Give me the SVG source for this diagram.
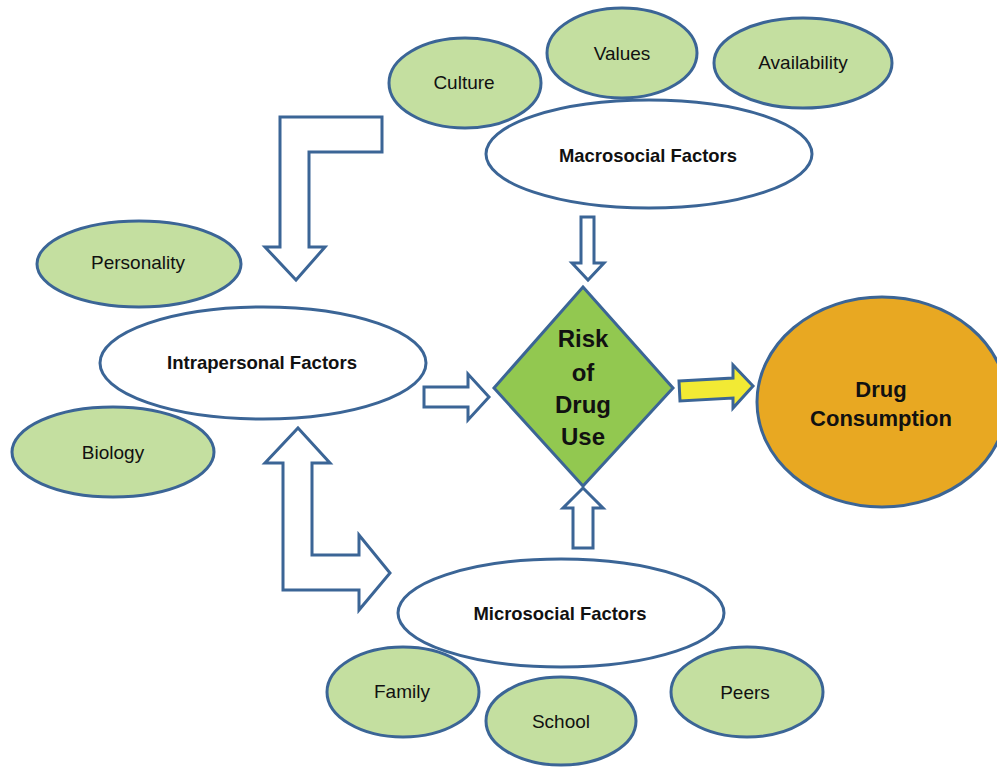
<svg xmlns="http://www.w3.org/2000/svg" width="997" height="767" viewBox="0 0 997 767">
<style>
.sub{fill:#c4dfa0;stroke:#3b6596;stroke-width:3}
.main{fill:#ffffff;stroke:#3b6596;stroke-width:3}
.arr{fill:#ffffff;stroke:#3b6596;stroke-width:3;stroke-linejoin:miter}
.t{font-family:"Liberation Sans",Arial,sans-serif;fill:#111;text-anchor:middle}
.s{font-size:19px}
.b{font-size:19px;font-weight:bold}
.big{font-size:24px;font-weight:bold}
</style>
<rect width="997" height="767" fill="#ffffff"/>
<g id="connectors">
<path class="arr" d="M280,117 L382,117 L382,152 L309,152 L309,247 L325,247 L296,280 L265,247 L280,247 Z"/>
<path class="arr" d="M298,428 L330,463 L312,463 L312,555 L359,555 L359,535 L390,573 L359,610 L359,590 L283,590 L283,463 L265,463 Z"/>
<path class="arr" d="M581,217 L594,217 L594,263 L604,263 L588,280 L572,263 L581,263 Z"/>
<path class="arr" d="M424,387 L468,387 L468,374 L489,397 L468,420 L468,407 L424,407 Z"/>
<path class="arr" d="M583,488 L603,508 L593,508 L593,548 L573,548 L573,508 L563,508 Z"/>
<path fill="#f2ea34" stroke="#3b6596" stroke-width="3" d="M679,381 L733,378 L733,365 L753,386 L733,408 L733,398 L680,401 Z"/>
</g>
<g id="culture"><ellipse class="sub" cx="465" cy="83" rx="76" ry="45"/><text class="t s" x="464" y="89">Culture</text></g>
<g id="values"><ellipse class="sub" cx="622" cy="53" rx="75" ry="45"/><text class="t s" x="622" y="60">Values</text></g>
<g id="availability"><ellipse class="sub" cx="803" cy="63" rx="89" ry="45"/><text class="t s" x="803" y="69">Availability</text></g>
<g id="macrosocial"><ellipse class="main" cx="649" cy="154" rx="163" ry="54"/><text class="t b" x="648" y="162" textLength="178" lengthAdjust="spacingAndGlyphs">Macrosocial Factors</text></g>
<g id="personality"><ellipse class="sub" cx="139" cy="264" rx="102" ry="43"/><text class="t s" x="138" y="269">Personality</text></g>
<g id="intrapersonal"><ellipse class="main" cx="263" cy="363" rx="163" ry="56"/><text class="t b" x="262" y="369" textLength="190" lengthAdjust="spacingAndGlyphs">Intrapersonal Factors</text></g>
<g id="biology"><ellipse class="sub" cx="113" cy="452" rx="101" ry="45"/><text class="t s" x="113" y="459">Biology</text></g>
<g id="microsocial"><ellipse class="main" cx="561" cy="613" rx="163" ry="54"/><text class="t b" x="560" y="620" textLength="173" lengthAdjust="spacingAndGlyphs">Microsocial Factors</text></g>
<g id="family"><ellipse class="sub" cx="403" cy="692" rx="76" ry="45"/><text class="t s" x="402" y="698">Family</text></g>
<g id="school"><ellipse class="sub" cx="561" cy="721" rx="75" ry="44"/><text class="t s" x="561" y="728">School</text></g>
<g id="peers"><ellipse class="sub" cx="747" cy="692" rx="76" ry="45"/><text class="t s" x="745" y="699">Peers</text></g>
<g id="risk">
<polygon points="583,287 673,388 583,486 494,388" fill="#92c850" stroke="#3b6596" stroke-width="3"/>
<text class="t big"><tspan x="583" y="347">Risk</tspan><tspan x="583" y="381">of</tspan><tspan x="583" y="413">Drug</tspan><tspan x="583" y="445">Use</tspan></text>
</g>
<g id="consumption">
<ellipse cx="882" cy="402" rx="125" ry="105" fill="#e8a822" stroke="#3b6596" stroke-width="3"/>
<text class="t" font-size="22" font-weight="bold"><tspan x="881" y="397">Drug</tspan><tspan x="881" y="426">Consumption</tspan></text>
</g>
</svg>
